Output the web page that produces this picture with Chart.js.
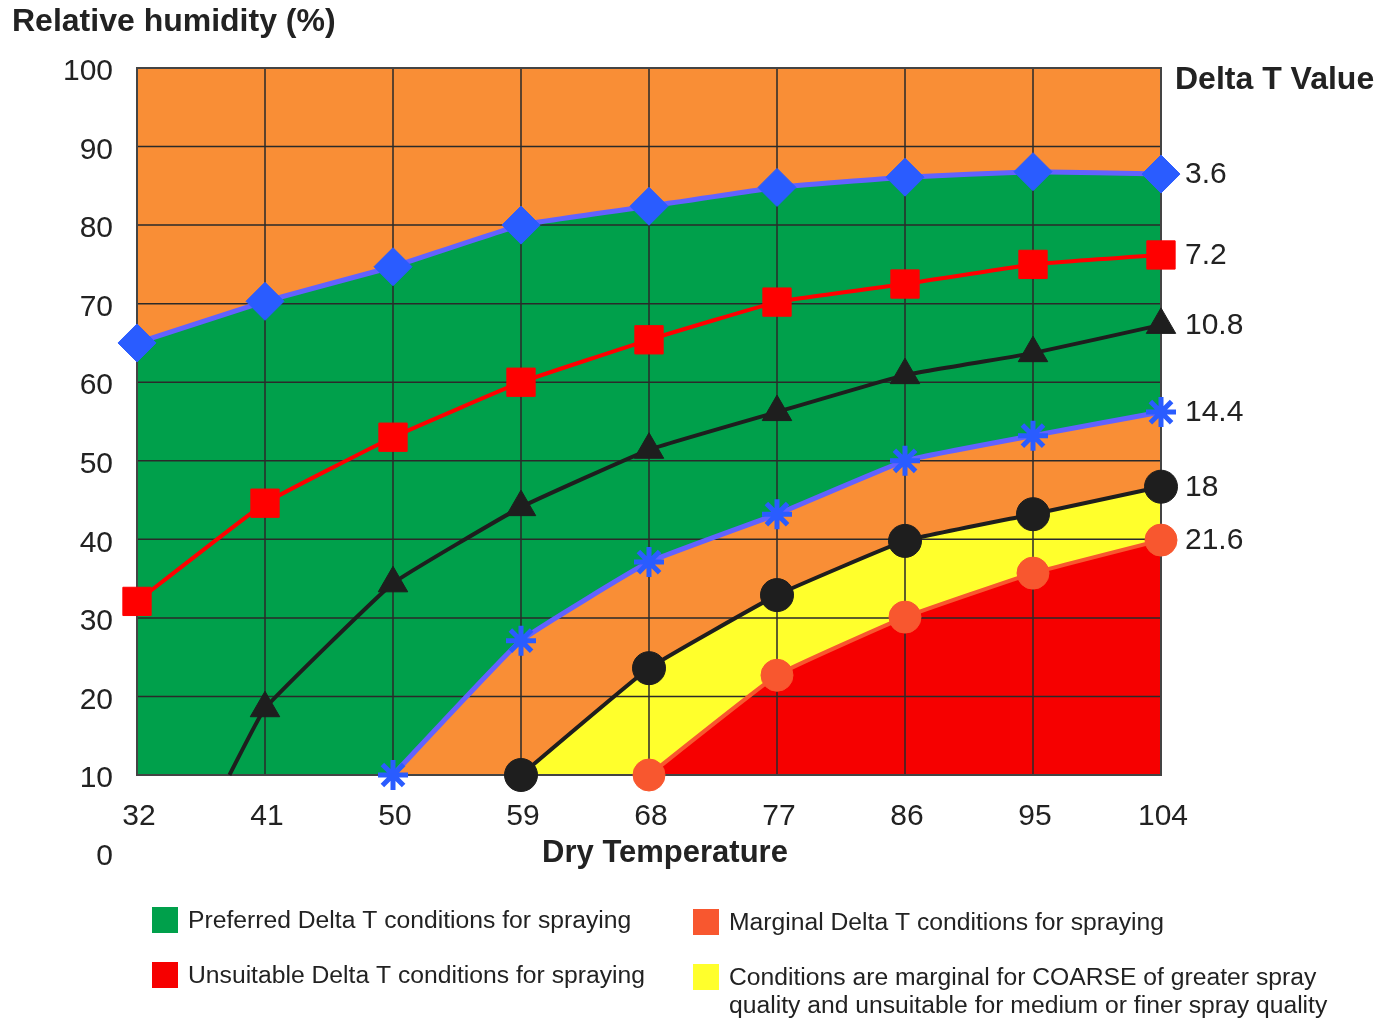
<!DOCTYPE html>
<html lang="en">
<head>
<meta charset="UTF-8" />
<title>Delta T conditions for spraying</title>
<script src="https://cdn.jsdelivr.net/npm/chart.js@4.4.1/dist/chart.umd.min.js"></script>
<style>
  body { margin: 0; background: #fff; }
  canvas { display: block; }
</style>
</head>
<body>
<canvas id="deltaT" width="1392" height="1020"></canvas>
<script>
const FONT = '"Liberation Sans", Arial, sans-serif';
const TEXT = '#222';

// axis ticks
const tempTicks = [32, 41, 50, 59, 68, 77, 86, 95, 104];
const humidityTicks = [10, 20, 30, 40, 50, 60, 70, 80, 90, 100];

// Delta T curves (dry temperature -> relative humidity)
const temps36 = [32, 41, 50, 59, 68, 77, 86, 95, 104];
const rh36 = [65, 70.3, 74.7, 80, 82.4, 84.8, 86.1, 86.8, 86.5];
const temps72 = [32, 41, 50, 59, 68, 77, 86, 95, 104];
const rh72 = [32.1, 44.6, 53, 60, 65.4, 70.2, 72.5, 75, 76.2];
const temps108 = [38.5, 41, 50, 59, 68, 77, 86, 95, 104];
const rh108 = [10, 18.5, 34.4, 44.1, 51.4, 56.2, 60.9, 63.7, 67.3];
const temps144 = [50, 59, 68, 77, 86, 95, 104];
const rh144 = [10, 27.1, 37.1, 43.2, 50, 53.2, 56.2];
const temps18 = [59, 68, 77, 86, 95, 104];
const rh18 = [10, 23.6, 32.9, 39.8, 43.2, 46.7];
const temps216 = [68, 77, 86, 95, 104];
const rh216 = [10, 22.7, 30.1, 35.7, 39.9];

const ORANGE = '#F98E36';
const GREEN = '#00A04B';
const YELLOW = '#FFFF2C';
const RED = '#F60000';
const CORAL = '#F8572F';

const legendItems = [
  { color: GREEN, x: 152, y: 907, lines: ['Preferred Delta T conditions for spraying'] },
  { color: RED, x: 152, y: 962, lines: ['Unsuitable Delta T conditions for spraying'] },
  { color: CORAL, x: 693, y: 909, lines: ['Marginal Delta T conditions for spraying'] },
  { color: YELLOW, x: 693, y: 964, lines: ['Conditions are marginal for COARSE of greater spray',
                                          'quality and unsuitable for medium or finer spray quality'] }
];

const pts = (xs, ys) => xs.map((x, i) => ({ x, y: ys[i] }));

const decor = {
  id: 'decor',
  beforeDraw(chart) {
    const { ctx, chartArea: a } = chart;
    ctx.save();
    ctx.fillStyle = ORANGE;
    ctx.fillRect(a.left, a.top, a.right - a.left, a.bottom - a.top);
    ctx.restore();
  },
  // grid goes over the filled zones but under the curves
  beforeDatasetsDraw(chart) {
    const { ctx, chartArea: a, scales: { x, y } } = chart;
    ctx.save();
    ctx.strokeStyle = '#2a2a2a';
    ctx.lineWidth = 1.5;
    ctx.beginPath();
    tempTicks.slice(1, -1).forEach(v => {
      const px = x.getPixelForValue(v);
      ctx.moveTo(px, a.top);
      ctx.lineTo(px, a.bottom);
    });
    humidityTicks.slice(1, -1).forEach(v => {
      const py = y.getPixelForValue(v);
      ctx.moveTo(a.left, py);
      ctx.lineTo(a.right, py);
    });
    ctx.stroke();
    ctx.strokeStyle = '#444';
    ctx.lineWidth = 2;
    ctx.strokeRect(a.left, a.top, a.right - a.left, a.bottom - a.top);
    ctx.restore();
  },
  afterDraw(chart) {
    const { ctx, chartArea: a, scales: { x, y } } = chart;
    ctx.save();
    ctx.fillStyle = TEXT;
    ctx.textBaseline = 'middle';

    ctx.font = 'bold 32px ' + FONT;
    ctx.textAlign = 'left';
    ctx.fillText('Relative humidity (%)', 12, 22);
    ctx.fillText('Delta T Value', a.right + 14, 80);
    ctx.font = 'bold 31px ' + FONT;
    ctx.textAlign = 'center';
    ctx.fillText('Dry Temperature', 665, 853);

    // stray zero under the y axis
    ctx.font = '30px ' + FONT;
    ctx.textAlign = 'right';
    ctx.fillText('0', 113, y.getPixelForValue(0) + 3);

    // curve labels at the right end
    ctx.textAlign = 'left';
    chart.data.datasets.forEach(ds => {
      const last = ds.data[ds.data.length - 1];
      ctx.fillText(ds.label, a.right + 24, y.getPixelForValue(last.y) + 1);
    });

    // legend
    ctx.font = '24.7px ' + FONT;
    legendItems.forEach(it => {
      ctx.fillStyle = it.color;
      ctx.fillRect(it.x, it.y, 26, 26);
      ctx.fillStyle = TEXT;
      it.lines.forEach((t, i) => ctx.fillText(t, it.x + 36, it.y + 14 + i * 28));
    });
    ctx.restore();
  }
};

const lineSet = (label, data, color, extra) => Object.assign({
  label,
  data,
  borderColor: color,
  borderWidth: 4,
  pointBackgroundColor: color,
  pointBorderColor: color,
  pointBorderWidth: 1,
  pointRadius: 17,
  pointHoverRadius: 17,
  tension: 0.1,
  fill: false,
  clip: false
}, extra);

new Chart(document.getElementById('deltaT'), {
  type: 'line',
  data: {
    datasets: [
      lineSet('3.6', pts(temps36, rh36), '#6262FF', {
        borderWidth: 5, pointStyle: 'rectRot', pointRadius: 19, pointHoverRadius: 19,
        pointBackgroundColor: '#2A5CFF', pointBorderColor: '#2A5CFF',
        fill: 'start', backgroundColor: GREEN, order: 6
      }),
      lineSet('7.2', pts(temps72, rh72), '#FF0000', {
        pointStyle: 'rect', pointRadius: 20, pointHoverRadius: 20, order: 5
      }),
      lineSet('10.8', pts(temps108, rh108), '#1E1E1E', {
        pointStyle: 'triangle',
        pointRadius: c => c.dataIndex === 0 ? 0 : 17,
        order: 4
      }),
      lineSet('14.4', pts(temps144, rh144), '#6262FF', {
        borderWidth: 5, pointStyle: 'star', pointRadius: 15, pointHoverRadius: 15,
        pointBorderColor: '#2A5CFF', pointBorderWidth: 5,
        fill: 'start', backgroundColor: ORANGE, order: 3
      }),
      lineSet('18', pts(temps18, rh18), '#1E1E1E', {
        pointStyle: 'circle', pointRadius: 16.5, pointHoverRadius: 16.5,
        fill: 'start', backgroundColor: YELLOW, order: 2
      }),
      lineSet('21.6', pts(temps216, rh216), CORAL, {
        pointStyle: 'circle', pointRadius: 16, pointHoverRadius: 16,
        fill: 'start', backgroundColor: RED, order: 1
      })
    ]
  },
  options: {
    responsive: false,
    animation: false,
    events: [],
    layout: { padding: { top: 68, right: 231, left: 0, bottom: 0 } },
    plugins: {
      legend: { display: false },
      tooltip: { enabled: false },
      filler: { drawTime: 'beforeDatasetsDraw' }
    },
    scales: {
      x: {
        type: 'linear',
        min: 32,
        max: 104,
        afterBuildTicks: s => { s.ticks = tempTicks.map(value => ({ value })); },
        afterFit: s => { s.height = 245; },
        grid: { display: false, drawTicks: false },
        border: { display: false },
        ticks: { color: TEXT, padding: 24, labelOffset: 2, font: { family: FONT, size: 30 } }
      },
      y: {
        type: 'linear',
        min: 10,
        max: 100,
        afterBuildTicks: s => { s.ticks = humidityTicks.map(value => ({ value })); },
        afterFit: s => { s.width = 137; },
        grid: { display: false, drawTicks: false },
        border: { display: false },
        ticks: { color: TEXT, padding: 24, labelOffset: 4, font: { family: FONT, size: 30 } }
      }
    }
  },
  plugins: [decor]
});
</script>
</body>
</html>
